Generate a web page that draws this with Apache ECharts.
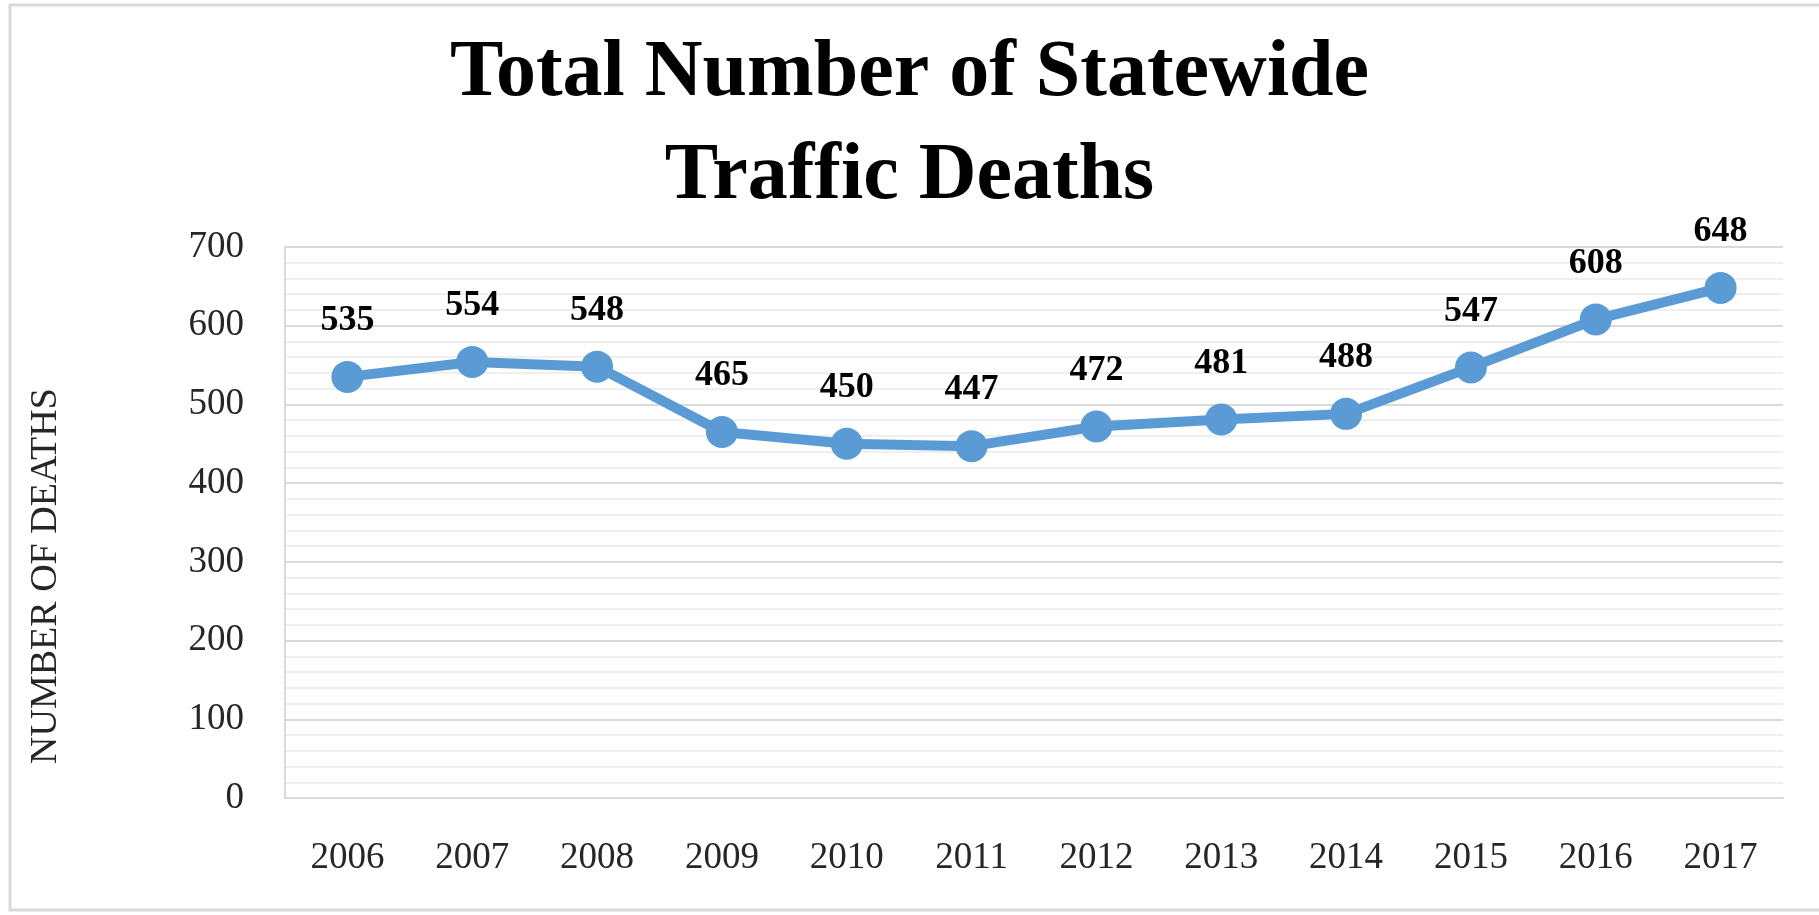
<!DOCTYPE html>
<html>
<head>
<meta charset="utf-8">
<title>Total Number of Statewide Traffic Deaths</title>
<script src="https://cdn.jsdelivr.net/npm/echarts@6/dist/echarts.min.js"></script>
<style>
    html, body {
        margin: 0;
        padding: 0;
        background: #fff;
    }
    #chart {
        width: 1819px;
        height: 915px;
    }
</style>
</head>
<body>
<div id="chart"></div>
<script>
// data
const years = ["2006", "2007", "2008", "2009", "2010", "2011", "2012", "2013", "2014", "2015", "2016", "2017"];
const deaths = [535, 554, 548, 465, 450, 447, 472, 481, 488, 547, 608, 648];
const yTicks = [0, 100, 200, 300, 400, 500, 600, 700];

const serif = "'Liberation Serif', 'DejaVu Serif', serif";

const chart = echarts.init(document.getElementById("chart"));

const option = {
    backgroundColor: "#fff",
    animation: false,
    title: {
        text: "Total Number of Statewide\nTraffic Deaths",
        left: "center",
        top: 18,
        textStyle: {
            fontFamily: serif,
            fontWeight: "bold",
            fontSize: 80,
            lineHeight: 103,
            color: "#000",
        },
    },
    graphic: [
        // outer frame
        {
            type: "rect",
            shape: { x: 10, y: 5, width: 1830, height: 905 },
            style: { fill: null, stroke: "#d9d9d9", lineWidth: 3 },
            silent: true,
        },
        // y axis name
        {
            type: "text",
            x: 46,
            y: 576,
            rotation: Math.PI / 2,
            style: {
                text: "NUMBER OF DEATHS",
                fontFamily: serif,
                fontSize: 38,
                fill: "#262626",
                align: "center",
                verticalAlign: "middle",
            },
        },
    ],
    grid: {
        left: 285,
        right: 36,
        top: 247,
        bottom: 117,
    },
    xAxis: {
        type: "category",
        data: years,
        boundaryGap: true,
        axisTick: { show: false },
        axisLine: {
            lineStyle: { color: "#d9d9d9", width: 2 },
        },
        axisLabel: {
            margin: 42,
            fontFamily: serif,
            fontSize: 37,
            color: "#262626",
        },
    },
    yAxis: {
        type: "value",
        min: yTicks[0],
        max: yTicks[yTicks.length - 1],
        interval: 100,
        axisLine: {
            show: true,
            lineStyle: { color: "#d9d9d9", width: 2 },
        },
        axisTick: { show: false },
        axisLabel: {
            margin: 41,
            fontFamily: serif,
            fontSize: 37,
            color: "#262626",
        },
        splitLine: {
            lineStyle: { color: "#d9d9d9", width: 2 },
        },
        minorTick: { show: false, splitNumber: 5 },
        minorSplitLine: {
            show: true,
            lineStyle: { color: "#efefef", width: 2 },
        },
    },
    series: [{
        type: "line",
        data: deaths,
        symbol: "circle",
        symbolSize: 32,
        lineStyle: { color: "#5b9bd5", width: 10 },
        itemStyle: { color: "#5b9bd5" },
        label: {
            show: true,
            position: "top",
            distance: 22,
            fontFamily: serif,
            fontWeight: "bold",
            fontSize: 36,
            color: "#000",
        },
    }],
};

chart.setOption(option);
</script>
</body>
</html>
